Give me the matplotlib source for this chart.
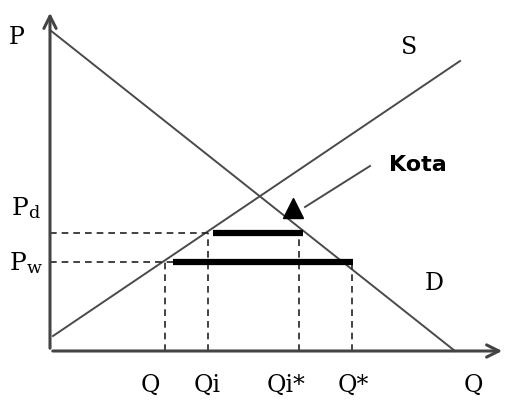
import matplotlib.pyplot as plt
import matplotlib as mpl

mpl.rcParams['mathtext.fontset'] = 'dejavuserif'

# diagram values (origin at axes corner)
demand_x = [0, 405]
demand_y = [321, 0]
supply_x = [3, 410]
supply_y = [15, 290]
p_levels = {"Pd": 118, "Pw": 89}
q_ticks = [115, 158, 249, 302]
q_labels = ["Q", "Qi", "Qi*", "Q*"]
q_tops = [89, 118, 118, 89]
quota_upper = [163, 253]   # at Pd
quota_lower = [123, 303]   # at Pw

serif = ['DejaVu Serif']
line_col = "#4a4a4a"
dash_col = "#222222"

fig = plt.figure(figsize=(5.1, 4.05), dpi=100)
ax = fig.add_axes([0, 0, 1, 1])
ax.set_xlim(-50, 460)
ax.set_ylim(-54, 351)
ax.axis("off")

# axes with arrows
ax.annotate("", xy=(0, 341), xytext=(0, 0),
            arrowprops=dict(arrowstyle="->", color="#444444", lw=2.2, mutation_scale=22))
ax.annotate("", xy=(455, 0), xytext=(0, 0),
            arrowprops=dict(arrowstyle="->", color="#444444", lw=2.2, mutation_scale=22))

# supply and demand
ax.plot(demand_x, demand_y, color=line_col, lw=1.4)
ax.plot(supply_x, supply_y, color=line_col, lw=1.4)

# dashed guides
ax.plot([0, quota_upper[0]], [p_levels["Pd"]] * 2, color=dash_col, lw=1.2, ls=(0, (4, 3)))
ax.plot([0, quota_lower[0]], [p_levels["Pw"]] * 2, color=dash_col, lw=1.2, ls=(0, (4, 3)))
for q, top in zip(q_ticks, q_tops):
    ax.plot([q, q], [0, top], color=dash_col, lw=1.2, ls=(0, (4, 3)))

# quota bars
ax.plot(quota_upper, [p_levels["Pd"]] * 2, color="black", lw=4.5, solid_capstyle="butt")
ax.plot(quota_lower, [p_levels["Pw"]] * 2, color="black", lw=4.5, solid_capstyle="butt")

# Kota pointer
ax.plot([320, 255], [185, 144], color=line_col, lw=1.4)
ax.plot([243], [143], marker="^", color="black", markersize=15)
ax.text(368, 186, "Kota", fontsize=16, fontweight="bold", family=['DejaVu Sans'],
        ha="center", va="center")

# labels
ax.text(-33, 314, "P", fontsize=17, family=serif, ha="center", va="center")
ax.text(359, 303, "S", fontsize=17, family=serif, ha="center", va="center")
ax.text(384, 67, "D", fontsize=17, family=serif, ha="center", va="center")
ax.text(-24, 143, r"$\mathrm{P_d}$", fontsize=18, ha="center", va="center")
ax.text(-24, 88, r"$\mathrm{P_w}$", fontsize=18, ha="center", va="center")
label_x = [100, 157, 236, 303]
for x, lab in zip(label_x, q_labels):
    ax.text(x, -34, lab, fontsize=17, family=serif, ha="center", va="center")
ax.text(423, -34, "Q", fontsize=17, family=serif, ha="center", va="center")

plt.savefig("out.png", dpi=100)
plt.close()
